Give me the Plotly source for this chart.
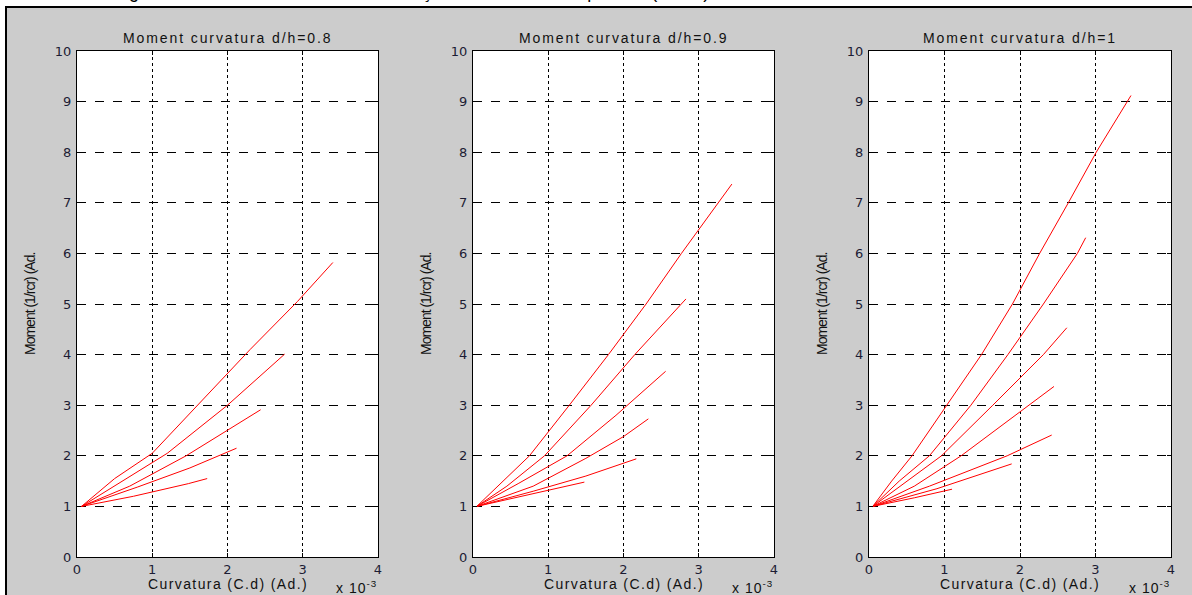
import plotly.graph_objects as go

W, H = 1192, 595

# ---------------- data (curvature in units of 1e-3) ----------------
titles = ["Moment curvatura d/h=0.8", "Moment curvatura d/h=0.9", "Moment curvatura d/h=1"]
x_ticks = [0, 1, 2, 3, 4]
y_ticks = [0, 1, 2, 3, 4, 5, 6, 7, 8, 9, 10]
x_label = "Curvatura (C.d) (Ad.)"
y_label = "Moment (1/rcr) (Ad."
exp_label = "x 10<sup>-3</sup>"
caption = "Gráfico 7 – Diagrama momento-curvatura com reforço da armadura comprimida (N/Ncr)"

# d/h = 0.8
p1_a_x = [0.06, 0.5, 1.0, 1.6, 2.3, 2.93, 3.40]
p1_a_y = [1.0, 1.55, 2.05, 3.0, 4.1, 5.05, 5.82]
p1_b_x = [0.06, 0.6, 1.2, 2.0, 2.76]
p1_b_y = [1.0, 1.5, 2.05, 3.0, 4.01]
p1_c_x = [0.06, 0.7, 1.45, 2.0, 2.44]
p1_c_y = [1.0, 1.4, 2.0, 2.5, 2.91]
p1_d_x = [0.06, 0.8, 1.5, 2.12]
p1_d_y = [1.0, 1.38, 1.76, 2.15]
p1_e_x = [0.06, 0.75, 1.48, 1.73]
p1_e_y = [1.0, 1.2, 1.45, 1.55]

# d/h = 0.9
p2_a_x = [0.05, 0.4, 0.75, 1.28, 1.80, 2.30, 2.77, 3.44]
p2_a_y = [1.0, 1.5, 2.0, 3.0, 4.0, 5.0, 6.0, 7.37]
p2_b_x = [0.05, 0.45, 0.95, 1.57, 2.15, 2.83]
p2_b_y = [1.0, 1.4, 2.0, 3.0, 4.0, 5.1]
p2_c_x = [0.05, 0.6, 1.25, 1.9, 2.56]
p2_c_y = [1.0, 1.45, 2.0, 2.8, 3.67]
p2_d_x = [0.05, 0.8, 1.5, 2.0, 2.33]
p2_d_y = [1.0, 1.4, 1.95, 2.38, 2.73]
p2_e_x = [0.05, 0.8, 1.5, 2.17]
p2_e_y = [1.0, 1.3, 1.6, 1.94]
p2_f_x = [0.05, 0.7, 1.48]
p2_f_y = [1.0, 1.22, 1.48]

# d/h = 1
p3_a_x = [0.05, 0.3, 0.57, 1.03, 1.49, 1.90, 2.26, 2.64, 3.01, 3.47]
p3_a_y = [1.0, 1.5, 2.0, 3.0, 4.0, 5.0, 6.0, 7.0, 8.0, 9.12]
p3_b_x = [0.05, 0.4, 0.8, 1.35, 1.84, 2.31, 2.76, 2.87]
p3_b_y = [1.0, 1.5, 2.0, 3.0, 4.0, 5.0, 6.0, 6.31]
p3_c_x = [0.05, 0.5, 0.96, 1.64, 2.31, 2.62]
p3_c_y = [1.0, 1.5, 2.0, 3.0, 4.0, 4.53]
p3_d_x = [0.05, 0.6, 1.22, 2.12, 2.45]
p3_d_y = [1.0, 1.4, 2.0, 3.0, 3.37]
p3_e_x = [0.05, 0.8, 1.83, 2.42]
p3_e_y = [1.0, 1.4, 2.0, 2.41]
p3_f_x = [0.05, 0.9, 1.89]
p3_f_y = [1.0, 1.35, 1.84]
p3_g_x = [0.05, 0.6, 1.10]
p3_g_y = [1.0, 1.17, 1.34]

panels_data = [
    [(p1_a_x, p1_a_y), (p1_b_x, p1_b_y), (p1_c_x, p1_c_y), (p1_d_x, p1_d_y), (p1_e_x, p1_e_y)],
    [(p2_a_x, p2_a_y), (p2_b_x, p2_b_y), (p2_c_x, p2_c_y), (p2_d_x, p2_d_y), (p2_e_x, p2_e_y), (p2_f_x, p2_f_y)],
    [(p3_a_x, p3_a_y), (p3_b_x, p3_b_y), (p3_c_x, p3_c_y), (p3_d_x, p3_d_y), (p3_e_x, p3_e_y),
     (p3_f_x, p3_f_y), (p3_g_x, p3_g_y)],
]

# ---------------- layout geometry (pixels) ----------------
panels_px = [(77, 378), (473, 774), (869, 1171)]
top_px, bottom_px = 51, 557


def px(x):
    return x / W


def py(y):
    return 1 - y / H


def spaced(text, sp):
    return '<span style="letter-spacing:%spx">%s</span>' % (sp, text)


fig = go.Figure()
FONT = "Arial, Liberation Sans, sans-serif"
TICKFONT = "DejaVu Sans, Arial, sans-serif"
annotations = []
layout_axes = {}

for i, (curves, (l, r)) in enumerate(zip(panels_data, panels_px)):
    sfx = "" if i == 0 else str(i + 1)
    for cx, cy in curves:
        fig.add_trace(go.Scatter(x=cx, y=cy, mode="lines",
                                 line=dict(color="#ff0000", width=1),
                                 xaxis="x" + sfx, yaxis="y" + sfx,
                                 showlegend=False, hoverinfo="skip"))
    common = dict(showline=True, linecolor="black", linewidth=1, mirror="ticks",
                  ticks="inside", ticklen=4, tickcolor="black", automargin=False,
                  showgrid=True, gridcolor="black", gridwidth=1, zeroline=False,
                  tickfont=dict(family=TICKFONT, size=13, color="#1c1c34"))
    layout_axes["xaxis" + sfx] = dict(common, domain=[px(l), px(r)], range=[0, 4],
                                      tickvals=x_ticks, ticktext=[str(t) for t in x_ticks],
                                      griddash="dot", anchor="y" + sfx, ticklabelstandoff=0)
    layout_axes["yaxis" + sfx] = dict(common, domain=[py(bottom_px), py(top_px)], range=[0, 10],
                                      tickvals=y_ticks, ticktext=[str(t) for t in y_ticks],
                                      griddash="dash", anchor="x" + sfx, ticklabelstandoff=2)
    cx_mid = (l + r) / 2
    annotations.append(dict(text=spaced(titles[i], 1.9), x=px(cx_mid), y=py(38),
                            xref="paper", yref="paper",
                            showarrow=False, font=dict(family=FONT, size=14, color="#111"),
                            xanchor="center", yanchor="middle"))
    annotations.append(dict(text=spaced(x_label, 1.4), x=px(cx_mid), y=py(584),
                            xref="paper", yref="paper",
                            showarrow=False, font=dict(family=FONT, size=14, color="#111"),
                            xanchor="center", yanchor="middle"))
    annotations.append(dict(text=spaced(y_label, -1.0), x=px(l - 47), y=py((top_px + bottom_px) / 2),
                            xref="paper", yref="paper", textangle=-90,
                            showarrow=False, font=dict(family=FONT, size=14, color="#111"),
                            xanchor="center", yanchor="middle"))
    annotations.append(dict(text=spaced(exp_label, 1), x=px(r + 1), y=py(587),
                            xref="paper", yref="paper",
                            showarrow=False, font=dict(family=FONT, size=14, color="#111"),
                            xanchor="right", yanchor="middle"))

annotations.append(dict(text=caption, x=px(8), y=py(3), xref="paper", yref="paper",
                        showarrow=False, font=dict(family=FONT, size=18, color="black"),
                        xanchor="left", yanchor="bottom", borderpad=0))

shapes = [
    dict(type="rect", xref="paper", yref="paper", x0=0, x1=1, y0=py(6), y1=1,
         fillcolor="white", line=dict(width=0), layer="below"),
    dict(type="rect", xref="paper", yref="paper", x0=0, x1=px(5), y0=0, y1=1,
         fillcolor="white", line=dict(width=0), layer="below"),
    dict(type="line", xref="paper", yref="paper", x0=px(5), x1=1, y0=py(7), y1=py(7),
         line=dict(color="black", width=2), layer="below"),
    dict(type="line", xref="paper", yref="paper", x0=px(6), x1=px(6), y0=0, y1=py(6),
         line=dict(color="black", width=2), layer="below"),
]

fig.update_layout(width=W, height=H, margin=dict(l=0, r=0, t=0, b=0, pad=0, autoexpand=False),
                  paper_bgcolor="#cccccc", plot_bgcolor="white",
                  annotations=annotations, shapes=shapes, **layout_axes)

fig.write_html("out.html", config={"displayModeBar": False},
               post_script="document.body.style.margin='0px';document.body.style.overflow='hidden';")
